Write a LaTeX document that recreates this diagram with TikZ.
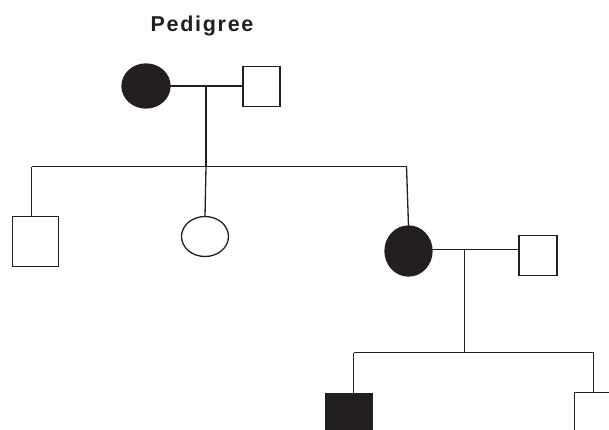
\documentclass[tikz,border=0pt]{standalone}
\usepackage{fontspec}
\setmainfont{Liberation Sans}
\usetikzlibrary{shapes.geometric}
\definecolor{ink}{HTML}{231F20}
\tikzset{
  lw/.style={line width=1.3pt, draw=ink},
  person/.style={lw, inner sep=0pt, outer sep=0pt},
  female/.style={person, ellipse},
  male/.style={person, rectangle},
  affected/.style={fill=ink},
  link/.style={lw}
}
\begin{document}
\begin{tikzpicture}[x=1pt,y=-1pt]
\clip (0,0) rectangle (609,429);
\fill[white] (0,0) rectangle (609,429);
% title
\node[anchor=base, font=\fontsize{21.5}{24}\selectfont\bfseries\addfontfeature{LetterSpace=8}, text=ink] (title) at (202,31.7) {Pedigree};
% generation I
\node[female, affected, minimum width=48pt, minimum height=44pt] (f1) at (146,86) {};
\node[male, minimum width=37pt, minimum height=40pt] (m1) at (261.5,86.5) {};
% generation II
\node[male, minimum width=46pt, minimum height=50pt] (c1) at (35.5,241.5) {};
\node[female, minimum width=47pt, minimum height=40pt] (c2) at (205,236.5) {};
\node[female, affected, minimum width=47pt, minimum height=50pt] (c3) at (408.5,251) {};
\node[male, minimum width=38pt, minimum height=40pt] (m2) at (538,255.5) {};
% generation III
\node[male, affected, minimum width=47pt, minimum height=50pt] (g1) at (349.2,418.3) {};
\node[male, minimum width=47pt, minimum height=50pt] (g2) at (597.8,417.7) {};
% coordinates
\coordinate (d1) at (206,87);
\coordinate (s1L) at (31.5,166.5);
\coordinate (s1M) at (206,166.5);
\coordinate (s1R) at (406.5,166.5);
\coordinate (d2) at (464.5,249.5);
\coordinate (s2L) at (353.5,352.5);
\coordinate (s2M) at (464.5,352.5);
\coordinate (s2R) at (593.5,352.5);
% connectors
\draw[link] (f1.east) -- (f1.east -| m1.west);
\draw[link] (d1) -- (s1M);
\draw[link] (s1L) -- (s1R);
\draw[link] (s1L) -- (s1L |- c1.north);
\draw[link] (s1M) -- (c2.north);
\draw[link] (s1R) -- (c3.north);
\draw[link] (d2 -| c3.east) -- (d2 -| m2.west);
\draw[link] (d2) -- (s2M);
\draw[link] (s2L) -- (s2R);
\draw[link] (s2L) -- (s2L |- g1.north);
\draw[link] (s2R) -- (s2R |- g2.north);
\end{tikzpicture}
\end{document}
